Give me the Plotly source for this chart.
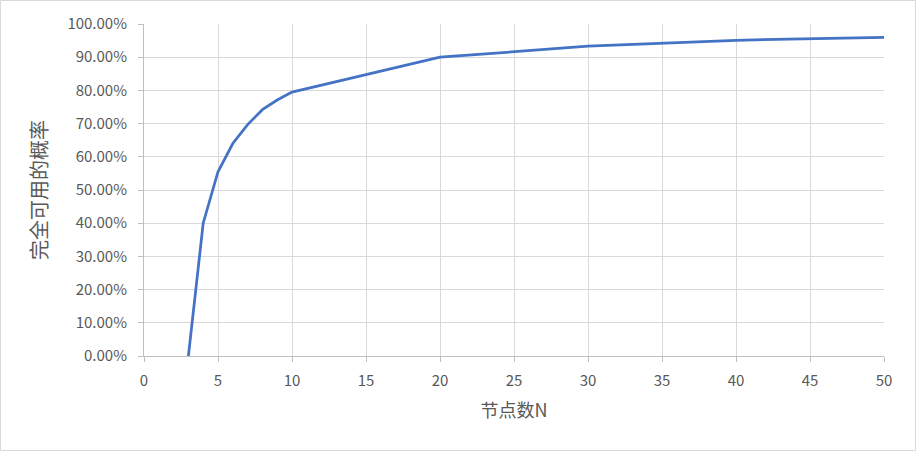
import plotly.graph_objects as go

nodes = [3, 4, 5, 6, 7, 8, 9, 10, 20, 30, 40, 50]
prob = [0.0, 0.400, 0.555, 0.640, 0.697, 0.742, 0.771, 0.795, 0.900, 0.933, 0.951, 0.960]

W, H = 917, 452
L, R, T, B = 144, 33, 24, 96
pw, ph = W - L - R, H - T - B

font_family = "Noto Sans CJK SC, Noto Sans, sans-serif"
grey = "#595959"

fig = go.Figure()
fig.add_trace(go.Scatter(
    x=nodes, y=prob, mode="lines",
    line=dict(color="#4472C4", width=2.75),
    showlegend=False,
))

fig.update_layout(
    width=W, height=H,
    margin=dict(l=L, r=R, t=T, b=B, pad=0),
    paper_bgcolor="white", plot_bgcolor="white",
    font=dict(family=font_family, color=grey, size=13),
    xaxis=dict(
        range=[0, 50], tick0=0, dtick=5, showgrid=True, gridcolor="#d9d9d9", gridwidth=1,
        showline=True, linecolor="#bfbfbf", linewidth=1,
        ticks="outside", ticklen=5, tickcolor="#bfbfbf",
        tickfont=dict(size=15, color=grey), ticklabelstandoff=6,
        title=dict(text="节点数N", font=dict(size=18, color=grey), standoff=15),
        zeroline=False,
    ),
    yaxis=dict(
        range=[0, 1], dtick=0.1, tickformat=".2%", showgrid=True, gridcolor="#d9d9d9", gridwidth=1,
        showline=True, linecolor="#bfbfbf", linewidth=1,
        ticks="outside", ticklen=5, tickcolor="#bfbfbf",
        tickfont=dict(size=15, color=grey), ticklabelstandoff=8,
        title=dict(text="完全可用的概率", font=dict(size=20, color=grey), standoff=14),
        zeroline=False,
    ),
    shapes=[dict(
        type="rect", xref="paper", yref="paper",
        x0=(0.5 - L) / pw, x1=(W - 1.5 - L) / pw,
        y0=-(H - 1.5 - T - ph) / ph, y1=1 + (T - 0.5) / ph,
        line=dict(color="#d9d9d9", width=1), layer="below",
    )],
)

fig.write_html("out.html", config={"displayModeBar": False},
               post_script="document.body.style.margin='0';document.body.style.padding='0';")
